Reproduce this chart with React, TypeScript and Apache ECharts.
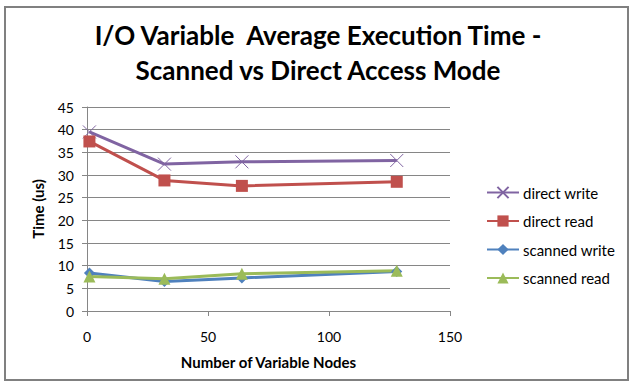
import React, { useEffect, useRef } from "react";
import * as echarts from "echarts";

const nodes = [1, 32, 64, 128];
const directWrite = [39.5, 32.4, 32.9, 33.2];
const directRead = [37.4, 28.8, 27.6, 28.5];
const scannedWrite = [8.4, 6.5, 7.3, 8.7];
const scannedRead = [7.6, 7.1, 8.2, 8.9];
const seriesNames = ["direct write", "direct read", "scanned write", "scanned read"];

const FONT = "Lato, 'Open Sans', sans-serif";

export default function App() {
  const ref = useRef<HTMLDivElement>(null);
  useEffect(() => {
    if (!ref.current) return;
    const chart = echarts.init(ref.current, undefined, { renderer: "svg" });
    const pair = (ys: number[]) => nodes.map((x, i) => [x, ys[i]]);
    chart.setOption({
      animation: false,
      backgroundColor: "#ffffff",
      textStyle: { fontFamily: FONT },
      title: {
        text: "I/O Variable  Average Execution Time -\nScanned vs Direct Access Mode",
        left: "center",
        top: 12,
        textStyle: {
          fontFamily: FONT,
          fontSize: 26,
          fontWeight: "bold",
          color: "#000",
          lineHeight: 35,
        },
      },
      graphic: [
        {
          type: "rect",
          shape: { x: 5, y: 7, width: 623, height: 373 },
          style: { fill: "none", stroke: "#808080", lineWidth: 2 },
          silent: true,
        },
      ],
      legend: {
        orient: "vertical",
        left: 481,
        top: 180,
        itemWidth: 32,
        itemHeight: 14,
        itemGap: 13.5,
        data: seriesNames,
        textStyle: { fontFamily: FONT, fontSize: 15, color: "#000", padding: [0, 0, 0, -1] },
      },
      grid: { left: 87, right: 186, top: 107, bottom: 74 },
      xAxis: {
        type: "value",
        min: 0,
        max: 150,
        interval: 50,
        name: "Number of Variable Nodes",
        nameLocation: "middle",
        nameGap: 43,
        nameTextStyle: { fontFamily: FONT, fontSize: 15, fontWeight: "bold", color: "#000" },
        axisLine: { show: true, lineStyle: { color: "#868686", width: 1 } },
        axisTick: { show: true, length: 5, lineStyle: { color: "#868686" } },
        axisLabel: { margin: 18, fontFamily: FONT, fontSize: 14, color: "#000" },
        splitLine: { show: false },
      },
      yAxis: {
        type: "value",
        min: 0,
        max: 45,
        interval: 5,
        name: "Time (us)",
        nameLocation: "middle",
        nameGap: 42,
        nameTextStyle: { fontFamily: FONT, fontSize: 15, fontWeight: "bold", color: "#000" },
        axisLine: { show: true, lineStyle: { color: "#868686", width: 1 } },
        axisTick: { show: true, length: 5, lineStyle: { color: "#868686" } },
        axisLabel: { margin: 13, fontFamily: FONT, fontSize: 14, color: "#000" },
        splitLine: { show: true, lineStyle: { color: "#868686", width: 1 } },
      },
      series: [
        {
          name: seriesNames[0],
          type: "line",
          data: pair(directWrite),
          symbol: "path://M0,0L10,10M10,0L0,10",
          symbolSize: 13,
          lineStyle: { color: "#8064A2", width: 3 },
          itemStyle: { color: "#8064A2", borderColor: "#8064A2", borderWidth: 1 },
        },
        {
          name: seriesNames[1],
          type: "line",
          data: pair(directRead),
          symbol: "rect",
          symbolSize: 12,
          lineStyle: { color: "#C0504D", width: 3 },
          itemStyle: { color: "#C0504D", borderWidth: 0 },
        },
        {
          name: seriesNames[2],
          type: "line",
          data: pair(scannedWrite),
          symbol: "diamond",
          symbolSize: 11,
          lineStyle: { color: "#4F81BD", width: 3 },
          itemStyle: { color: "#4F81BD", borderWidth: 0 },
        },
        {
          name: seriesNames[3],
          type: "line",
          data: pair(scannedRead),
          symbol: "triangle",
          symbolSize: 12,
          lineStyle: { color: "#9BBB59", width: 3 },
          itemStyle: { color: "#9BBB59", borderWidth: 0 },
        },
      ],
    });
    return () => chart.dispose();
  }, []);
  return (
    <div
      ref={ref}
      style={{ position: "fixed", left: 0, top: 0, width: 636, height: 385 }}
    />
  );
}
